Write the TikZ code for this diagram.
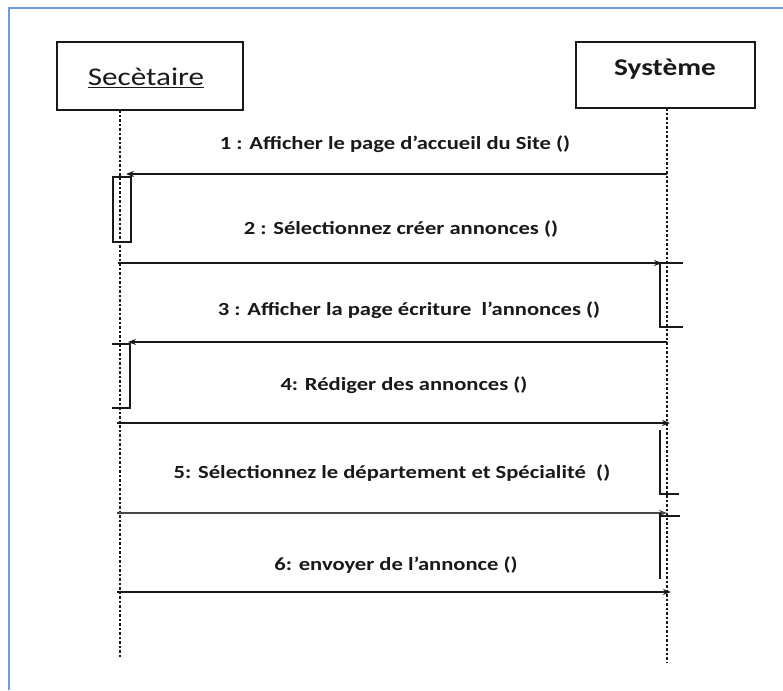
\documentclass[tikz,border=0pt]{standalone}
\usepackage{fontspec}
\setmainfont{Carlito}
\usetikzlibrary{arrows.meta}
\definecolor{framecol}{RGB}{110,155,225}
\definecolor{inkcol}{RGB}{25,25,25}
% horizontally widened text, as the labels are set
\newcommand{\widetext}[1]{\scalebox{1.22}[1]{#1}}
\tikzset{
  objbox/.style={draw=inkcol, line width=1.3pt, rectangle, minimum width=186pt, minimum height=68pt, inner sep=0pt},
  lifeline/.style={draw=inkcol, line width=1.1pt, dash pattern=on 2.5pt off 2pt},
  msg/.style={draw=inkcol, line width=1.2pt, -{Stealth[length=8pt,width=6pt]}},
  actbar/.style={draw=inkcol, line width=1.2pt},
  msglabel/.style={font=\bfseries\fontsize{18.5}{20}\selectfont, text=inkcol, inner sep=0pt}
}
\begin{document}
\begin{tikzpicture}[x=1pt,y=-1pt]
\useasboundingbox (0,0) rectangle (783,690);
\fill[white] (0,0) rectangle (783,690);
% frame (top and left edges)
\draw[framecol, line width=1.6pt] (9,690) -- (9,8) -- (783,8);

% objects
\node[objbox] (sec) at (150,76) {};
\node[inner sep=0pt, text=inkcol, font=\fontsize{25.5}{27}\selectfont] (sectxt) at (146,78) {\widetext{\underline{Secètaire}}};
\node[objbox, minimum width=179pt, minimum height=66pt] (sys) at (665.5,75) {};
\node[font=\bfseries\fontsize{24}{26}\selectfont, text=inkcol, inner sep=0pt] (systxt) at (665,69) {\widetext{Système}};

% lifelines
\coordinate (secTop) at (120,110);
\coordinate (secEnd) at (120,657);
\coordinate (sysTop) at (667,108);
\coordinate (sysEnd) at (667,663);
\draw[lifeline] (secTop) -- (secEnd);
\draw[lifeline] (sysTop) -- (sysEnd);

% message 1
\coordinate (m1a) at (667,174);
\coordinate (m1b) at (126,174);
\draw[msg] (m1a) -- (m1b);
\node[msglabel] (l1) at (395,144) {\widetext{1 : Afficher le page d'accueil du Site ()}};
\draw[actbar] (113,177) rectangle (131,242);

% message 2
\coordinate (m2a) at (118,263);
\coordinate (m2b) at (662,263);
\draw[msg] (m2a) -- (m2b);
\node[msglabel] (l2) at (401,229) {\widetext{2 : Sélectionnez créer annonces ()}};
\draw[actbar] (683,263) -- (660,263) -- (660,327) -- (683,327);

% message 3
\coordinate (m3a) at (667,342);
\coordinate (m3b) at (128,342);
\draw[msg] (m3a) -- (m3b);
\node[msglabel] (l3) at (409,310) {\widetext{3 : Afficher la page écriture\ \ l'annonces ()}};
\draw[actbar] (112,344) -- (130,344) -- (130,408) -- (112,408);

% message 4
\coordinate (m4a) at (117,423);
\coordinate (m4b) at (670,423);
\draw[msg] (m4a) -- (m4b);
\node[msglabel] (l4) at (404,385) {\widetext{4: Rédiger des annonces ()}};
\draw[actbar] (660,430) -- (660,494) -- (679,494);

% message 5
\coordinate (m5a) at (117,513);
\coordinate (m5b) at (667,513);
\draw[msg, draw=inkcol!80, line width=1.8pt] (m5a) -- (m5b);
\node[msglabel] (l5) at (392,473) {\widetext{5: Sélectionnez le département et Spécialité\ \ ()}};
\draw[actbar] (660,516) -- (680,516);
\draw[actbar] (660,513) -- (660,579);

% message 6
\coordinate (m6a) at (117,592);
\coordinate (m6b) at (671,592);
\draw[msg] (m6a) -- (m6b);
\node[msglabel] (l6) at (396,565) {\widetext{6: envoyer de l'annonce ()}};
\end{tikzpicture}
\end{document}
